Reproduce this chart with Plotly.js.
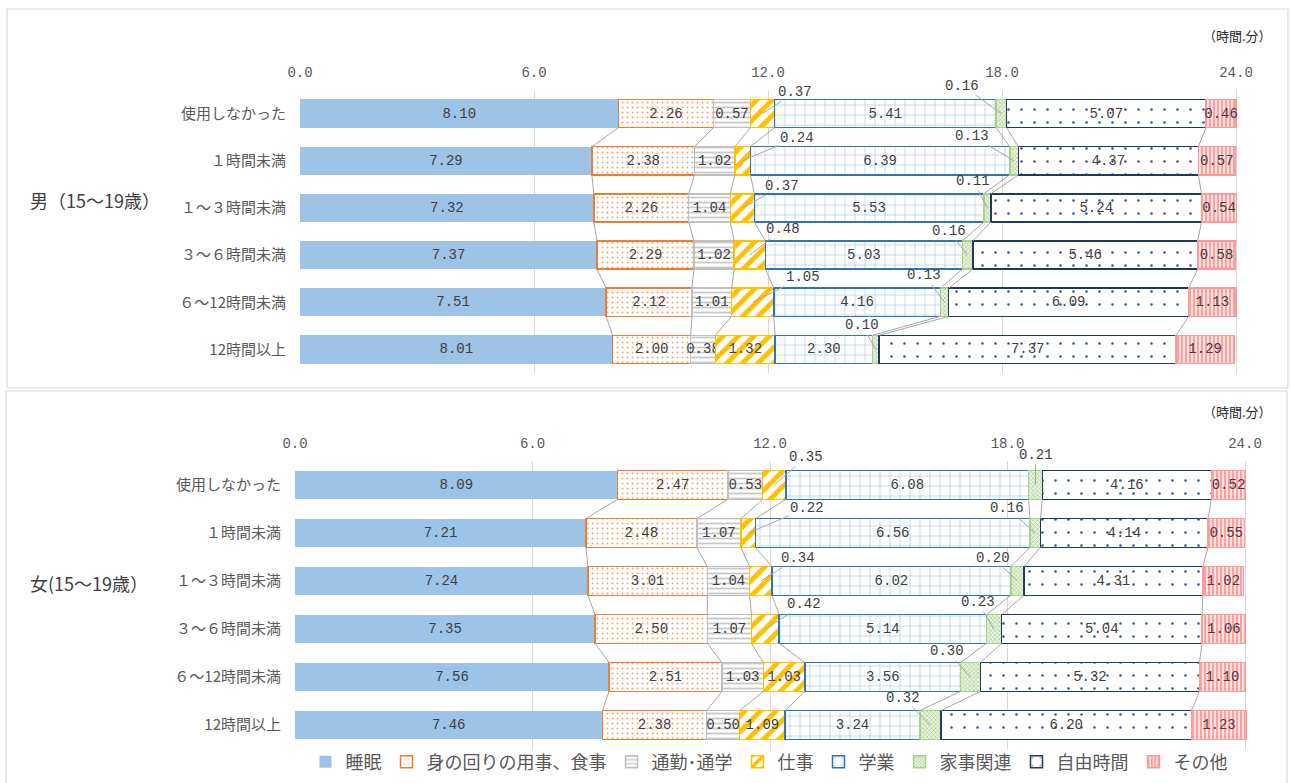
<!DOCTYPE html>
<html><head><meta charset="utf-8">
<script src="https://cdn.plot.ly/plotly-3.0.1.min.js"></script>
<style>html,body{margin:0;padding:0;background:#fff}#chart{width:1291px;height:783px}</style>
</head><body><div id="chart"></div>
<script>
// ---------- DATA (hours.minutes) ----------
const categories = ["使用しなかった","１時間未満","１～３時間未満","３～６時間未満","６～12時間未満","12時間以上"];
const seriesNames = ["睡眠","身の回りの用事、食事","通勤･通学","仕事","学業","家事関連","自由時間","その他"];
const tickVals = [0, 6, 12, 18, 24];
const tickText = ["0.0", "6.0", "12.0", "18.0", "24.0"];
const groupMale = "男（15～19歳）";
const groupFemale = "女(15～19歳）";
const unitLabel = "（時間.分）";

const male_sleep    = [8.10, 7.29, 7.32, 7.37, 7.51, 8.01];
const male_personal = [2.26, 2.38, 2.26, 2.29, 2.12, 2.00];
const male_commute  = [0.57, 1.02, 1.04, 1.02, 1.01, 0.38];
const male_work     = [0.37, 0.24, 0.37, 0.48, 1.05, 1.32];
const male_study    = [5.41, 6.39, 5.53, 5.03, 4.16, 2.30];
const male_house    = [0.16, 0.13, 0.11, 0.16, 0.13, 0.10];
const male_free     = [5.07, 4.37, 5.24, 5.46, 6.09, 7.37];
const male_other    = [0.46, 0.57, 0.54, 0.58, 1.13, 1.29];

const female_sleep    = [8.09, 7.21, 7.24, 7.35, 7.56, 7.46];
const female_personal = [2.47, 2.48, 3.01, 2.50, 2.51, 2.38];
const female_commute  = [0.53, 1.07, 1.04, 1.07, 1.03, 0.50];
const female_work     = [0.35, 0.22, 0.34, 0.42, 1.03, 1.09];
const female_study    = [6.08, 6.56, 6.02, 5.14, 3.56, 3.24];
const female_house    = [0.21, 0.16, 0.20, 0.23, 0.30, 0.32];
const female_free     = [4.16, 4.14, 4.31, 5.04, 5.32, 6.20];
const female_other    = [0.52, 0.55, 1.02, 1.06, 1.10, 1.23];

// ---------- label placement (pixel offsets for outside labels; null = inside) ----------
const maleWorkOff    = [[33,-22],[54,-23],[40,-22],[33,-26],[50,-25],null];
const maleHouseOff   = [[-39,-28],[-42,-25],[-14,-27],[-19,-24],[-20,-27],[-14,-24]];
const femaleWorkOff  = [[32,-28],[59,-25],[37,-23],[39,-25],null,null];
const femaleHouseOff = [[0,-30],[-28,-25],[-24,-23],[-16,-27],[-24,-26],[-27,-27]];

// ---------- styles ----------
const MONO = "Liberation Mono, DejaVu Sans Mono, monospace";
const CJK = "Noto Sans CJK JP, sans-serif";
const styles = [
  {color:'#9DC3E6', line:{width:0}},
  {color:'#FFFFFF', line:{color:'#ED7D31', width:1.5}, pattern:{shape:'.', fgcolor:'#F4A46C', bgcolor:'#FFFFFF', size:5, solidity:0.12}},
  {color:'#FFFFFF', line:{color:'#BFBFBF', width:1.5}, pattern:{shape:'-', fgcolor:'#C8C8C8', bgcolor:'#FFFFFF', size:5, solidity:0.35}},
  {color:'#FFFFFF', line:{color:'#FFC000', width:1.5}, pattern:{shape:'/', fgcolor:'#FFC000', bgcolor:'#FFFFFF', size:11, solidity:0.45}},
  {color:'#FFFFFF', line:{color:'#2E75B6', width:1.5}, pattern:{shape:'+', fgcolor:'#8FB8E2', bgcolor:'#FFFFFF', size:10, solidity:0.1}},
  {color:'#E2F0D9', line:{color:'#A9D18E', width:1.5}, pattern:{shape:'x', fgcolor:'#A9D18E', bgcolor:'#E8F3E0', size:3, solidity:0.4}},
  {color:'#FFFFFF', line:{color:'#1F3864', width:1.5}, pattern:{shape:'.', fgcolor:'#2F5597', bgcolor:'#FFFFFF', size:13, solidity:0.03}},
  {color:'#FFFFFF', line:{color:'#FF9999', width:1.5}, pattern:{shape:'|', fgcolor:'#FF9999', bgcolor:'#FFE3E3', size:4, solidity:0.45}}
];

function toHours(v){ const h = Math.floor(v + 1e-9); const m = Math.round((v - h) * 100); return h + m / 60; }
const rows = categories.map((c, i) => i);

const traces = [];
const annotations = [];

function buildPanel(series, workOff, houseOff, xa, ya, showLeg){
  const hours = series.map(s => s.map(toHours));
  const cum = rows.map(i => { let acc = 0; return hours.map(h => (acc += h[i])); });
  series.forEach((vals, s) => {
    const st = styles[s];
    const text = vals.map((v, i) => ((s === 3 && workOff[i]) || (s === 5 && houseOff[i])) ? '' : v.toFixed(2));
    const marker = {color: st.color, line: st.line};
    if (st.pattern) marker.pattern = st.pattern;
    traces.push({
      type:'bar', orientation:'h', name: seriesNames[s], x: hours[s], y: rows,
      xaxis: xa, yaxis: ya, width: 0.6, marker: marker,
      text: text, textposition:'inside', insidetextanchor:'middle', constraintext:'none', textangle:0,
      textfont:{family: MONO, size:14, color:'#404040'}, cliponaxis:false,
      showlegend: showLeg, legendgroup: 's' + s, hoverinfo:'skip'
    });
  });
  const lx = [], ly = [];
  for (let i = 0; i < rows.length - 1; i++){
    for (let k = 0; k < series.length - 1; k++){
      lx.push(cum[i][k], cum[i+1][k], null);
      ly.push(i + 0.3, i + 1 - 0.3, null);
    }
  }
  traces.push({type:'scatter', mode:'lines', x: lx, y: ly, xaxis: xa, yaxis: ya,
    line:{color:'#A6A6A6', width:1}, showlegend:false, hoverinfo:'skip', cliponaxis:false});
  [[3, workOff],[5, houseOff]].forEach(([s, offs]) => {
    rows.forEach(i => {
      if (!offs[i]) return;
      const start = cum[i][s] - hours[s][i];
      annotations.push({xref: xa, yref: ya, x: start + hours[s][i] / 2, y: i,
        text: series[s][i].toFixed(2), showarrow:true, arrowhead:0, arrowwidth:1, arrowcolor:'#A6A6A6',
        ax: offs[i][0], ay: offs[i][1], standoff:0,
        font:{family: MONO, size:14, color:'#404040'}});
    });
  });
}

buildPanel([male_sleep, male_personal, male_commute, male_work, male_study, male_house, male_free, male_other],
  maleWorkOff, maleHouseOff, 'x', 'y', true);
buildPanel([female_sleep, female_personal, female_commute, female_work, female_study, female_house, female_free, female_other],
  femaleWorkOff, femaleHouseOff, 'x2', 'y2', false);

const W = 1291, H = 783;
const EXT = 0.06; // small range extension so bars ending just past 24 keep their labels
function xAxis(l, r, anchor){
  const ppu = (r - l) / 24;
  return {domain:[l/W, (r + EXT * ppu)/W], range:[0, 24 + EXT], side:'top', anchor: anchor, tickmode:'array', tickvals: tickVals, ticktext: tickText,
    showgrid:true, gridcolor:'#D9D9D9', gridwidth:1, zeroline:false, showline:false,
    ticks:'outside', ticklen:6, tickcolor:'rgba(0,0,0,0)',
    tickfont:{family: MONO, size:14, color:'#595959'}, fixedrange:true};
}
function yAxis(top, bottom, anchor){
  return {domain:[1 - bottom/H, 1 - top/H], range:[5.5, -0.5], anchor: anchor, tickmode:'array', tickvals: rows, ticktext: categories,
    showgrid:false, zeroline:false, showline:false, ticks:'outside', ticklen:10, tickcolor:'rgba(0,0,0,0)',
    tickfont:{family: CJK, size:15, color:'#595959'}, fixedrange:true};
}

annotations.push(
  {xref:'paper', yref:'paper', x: 95/W, y: 1 - 200/H, xanchor:'center', yanchor:'middle', text: groupMale, showarrow:false, font:{family:CJK, size:18, color:'#404040'}},
  {xref:'paper', yref:'paper', x: 89/W, y: 1 - 583/H, xanchor:'center', yanchor:'middle', text: groupFemale, showarrow:false, font:{family:CJK, size:18, color:'#404040'}},
  {xref:'paper', yref:'paper', x: 1237/W, y: 1 - 35/H, xanchor:'center', yanchor:'middle', text: unitLabel, showarrow:false, font:{family:CJK, size:13, color:'#262626'}},
  {xref:'paper', yref:'paper', x: 1237/W, y: 1 - 411/H, xanchor:'center', yanchor:'middle', text: unitLabel, showarrow:false, font:{family:CJK, size:13, color:'#262626'}}
);

const layout = {
  width: W, height: H, margin:{l:0, r:0, t:0, b:0}, paper_bgcolor:'#FFFFFF', plot_bgcolor:'#FFFFFF',
  barmode:'stack', bargap:0.4,
  xaxis: xAxis(300, 1236, 'y'), yaxis: yAxis(90, 373, 'x'),
  xaxis2: xAxis(295, 1245, 'y2'), yaxis2: yAxis(461, 749, 'x2'),
  showlegend:true,
  legend:{orientation:'h', x: 769/W, xanchor:'center', y: 1 - 762/H, yanchor:'middle',
    font:{family:CJK, size:18, color:'#595959'}, itemwidth:30, traceorder:'normal', bgcolor:'rgba(0,0,0,0)'},
  annotations: annotations,
  shapes:[
    {type:'rect', xref:'paper', yref:'paper', x0: 7/W, x1: 1288/W, y0: 1 - 388/H, y1: 1 - 9/H, line:{color:'#D9D9D9', width:1.2}, layer:'below'},
    {type:'rect', xref:'paper', yref:'paper', x0: 6/W, x1: 1287/W, y0: -0.05, y1: 1 - 391/H, line:{color:'#D9D9D9', width:1.2}, layer:'below'}
  ],
  font:{family: CJK}
};

Plotly.newPlot('chart', traces, layout, {displayModeBar:false, staticPlot:true});
</script></body></html>
